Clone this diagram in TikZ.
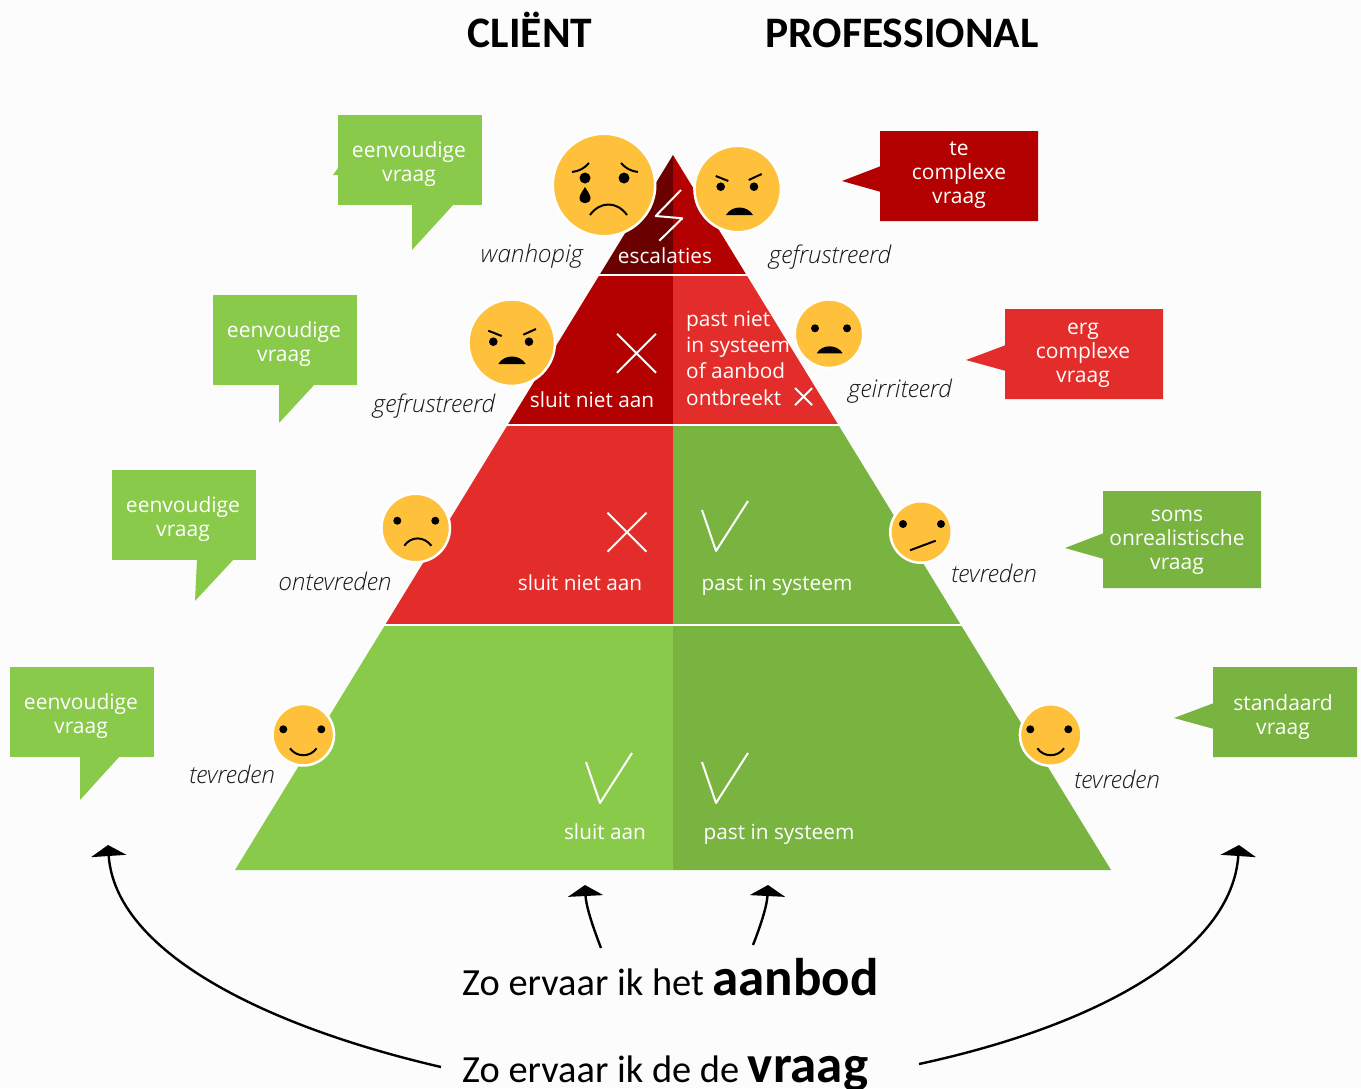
\documentclass[tikz,border=0pt]{standalone}
\usepackage{fontspec}
\setmainfont{Open Sans}
\newfontfamily\kopfont{Carlito}
\newfontfamily\lichtfont{Open Sans Light}[ItalicFont={Open Sans Light Italic}]
\usetikzlibrary{arrows.meta}
\definecolor{donker}{HTML}{6B0000}
\definecolor{rood}{HTML}{B30000}
\definecolor{licht rood}{HTML}{E32D2A}
\definecolor{groen}{HTML}{89CA4A}
\definecolor{donker groen}{HTML}{79B340}
\definecolor{geel}{HTML}{FFC13C}
\tikzset{
  ballon/.style={text=white,align=center,font=\fontsize{21}{24}\selectfont,inner sep=0pt},
  tekst/.style={text=white,font=\fontsize{20.8}{26.3}\selectfont,inner sep=0pt},
  gevoel/.style={text=black!90,font=\lichtfont\itshape\fontsize{24.3}{28}\selectfont,inner sep=0pt},
  regel/.style={anchor=base west,inner sep=0pt,font=\kopfont\fontsize{38.4}{40}\selectfont},
  kop/.style={anchor=base,inner sep=0pt,font=\kopfont\bfseries\fontsize{43.5}{45}\selectfont},
  gezicht/.style={circle,fill=geel,draw=white,line width=2.5pt,inner sep=0pt},
  teken/.style={white,line width=2pt},
  mond/.style={black,line width=2pt},
  pijl/.style={black,line width=2.4pt,-{Triangle[width=35pt,length=11pt]}}
}
\begin{document}
\begin{tikzpicture}[x=1pt,y=-1pt,line join=round]%Piramide
  \useasboundingbox (0,0) rectangle (1361,1088);
  \fill[white!99!black] (0,0) rectangle (1361,1088);
  % de lagen, links en rechts
  \foreach \y/\b/\kl/\kr in {155/275/donker/rood,275/425/rood/licht rood,425/625/licht rood/donker groen,625/870/groen/donker groen}{
      \pgfmathsetmacro{\xa}{0.6126*(\y-155)}
      \pgfmathsetmacro{\xb}{0.6126*(\b-155)}
      \fill[\kl] (673-\xa,\y)--(673,\y)--(673,\b)--(673-\xb,\b)--cycle;
      \fill[\kr] (673+\xa,\y)--(673,\y)--(673,\b)--(673+\xb,\b)--cycle;
  }
  \foreach \y/\a/\b in {275/598/749,425/506/841,625/383/964}
  \draw[white,line width=2pt] (\a,\y)--(\b,\y);
  % ballonnen
  \foreach \x/\y/\n in {338/115/b1,213/295/b2,112/470/b3,10/667/b4}{
      \fill[groen] (\x,\y) rectangle (\x+144,\y+90);
      \node[ballon] (\n) at (\x+71,\y+49) {eenvoudige\\vraag};
  }
  \fill[groen] (412,204)--(412,250)--(454,204)--cycle (338,168)--(333,175)--(338,175)--cycle;
  \fill[groen] (279,384)--(279,423)--(315,384)--cycle;
  \fill[groen] (197,559)--(195,601)--(234,559)--cycle;
  \fill[groen] (80,756)--(80,800)--(120,756)--cycle;
  \fill[rood] (880,131) rectangle (1038,221) (881,166)--(842,181)--(881,192)--cycle;
  \node[ballon] (b5) at (959,175) {te\\complexe\\vraag};
  \fill[licht rood] (1005,309) rectangle (1163,399) (1006,345)--(966,360)--(1006,371)--cycle;
  \node[ballon] (b6) at (1083,355) {erg\\complexe\\vraag};
  \fill[donker groen] (1103,491) rectangle (1261,588) (1104,533)--(1065,548)--(1104,559)--cycle;
  \node[ballon] (b7) at (1177,542.5) {soms\\onrealistische\\vraag};
  \fill[donker groen] (1213,667) rectangle (1357,757) (1214,703)--(1174,718)--(1214,729)--cycle;
  \node[ballon] (b8) at (1283,717) {standaard\\vraag};
  % gezichten
  \foreach \x/\y/\r/\n in {604/185/50/f1,737.7/189/42/f2,511.7/342.7/42/f3,829/333.7/33/f4,415.7/528/33/f5,921/532/29.5/f6,303.3/734.7/29.5/f7,1050.7/735/29.5/f8}{
      \node[gezicht,minimum size={2*\r pt+2.5pt}] (\n) at (\x,\y) {};
  }
  \foreach \x/\y/\r in {585/178/5.5,624/178/5.5,720.7/186.7/4.3,754/186.7/4.3,493.3/341.7/4.3,529/341.7/4.3,815/328.3/4,847/328.3/4,397.3/520.7/4,435.3/520.7/4,903/524/4,941/524/4,283.3/729.3/4,321.3/729.3/4,1030.3/729.3/4,1068.3/729.3/4}
  \fill[black] (\x,\y) circle (\r);
  \draw[mond] (572,172) to[bend right=20] (589,163) (621,163) to[bend right=20] (638,172);
  \fill[black] (585,187) .. controls (582,192) and (579.5,195) .. (579.5,198) .. controls (579.5,205) and (590.5,205) .. (590.5,198) .. controls (590.5,195) and (588,192) .. (585,187);
  \draw[mond] (590,215) .. controls (600,201) and (617,201) .. (627,215);
  \draw[mond] (715.7,176)--(728.3,181) (761.7,174)--(748.7,180) (488.3,330.7)--(501.7,336) (536,329)--(523.3,334.7);
  \fill[black] (726,215) .. controls (732,205) and (747,205) .. (753,215)--cycle;
  \fill[black] (498.3,364) .. controls (504,354) and (520,354) .. (525.7,364)--cycle;
  \fill[black] (816.7,353.3) .. controls (822,344) and (837,344) .. (842.7,353.3)--cycle;
  \draw[mond] (404.3,545.7) .. controls (411,536) and (424,536) .. (431.3,545.7);
  \draw[mond] (910,550.3)--(935.7,540.7);
  \foreach \x in {303.3,1050.7}
  \draw[mond] (\x-13.3,748.3) .. controls (\x-7,757.5) and (\x+7,757.5) .. (\x+13.3,748.3);
  % gevoelens
  \foreach \x/\y/\t/\n in {532/262/wanhopig/g1,830/263/gefrustreerd/g2,434/412/gefrustreerd/g3,900/397/geirriteerd/g4,335/590/ontevreden/g5,994/582/tevreden/g6,232/783/tevreden/g7,1117/788/tevreden/g8}{
      \node[gevoel,anchor=base] (\n) at (\x,\y) {\t};
  }
  % tekst in de piramide
  \foreach \x/\y/\t/\n in {665/263/escalaties/t1,592/407/sluit niet aan/t2,580/590/sluit niet aan/t3,777/590/past in systeem/t4,605/839/sluit aan/t5,779/839/past in systeem/t6}{
      \node[tekst,anchor=base] (\n) at (\x,\y) {\t};
  }
  \node[tekst,anchor=base west,align=left] (t7) at (686,405) {past niet\\in systeem\\of aanbod\\ontbreekt};
  % kruisjes en vinkjes
  \foreach \x/\y/\r in {636.5/353.3/19.5,627/532.2/19.5,803.6/396.6/8.5}
  \draw[teken] (\x-\r,\y-\r)--(\x+\r,\y+\r) (\x-\r,\y+\r)--(\x+\r,\y-\r);
  \foreach \x/\y in {702/510,702/762,586/762}
  \draw[teken] (\x,\y)--(\x+14,\y+41)--(\x+46,\y-9);
  \draw[teken] (681,190)--(655.7,216)--(682.3,218.3)--(659.3,240.7);
  % kopjes en regels
  \node[kop] (client) at (530,47.5) {CLIËNT};
  \node[kop] (prof) at (902,47.5) {PROFESSIONAL};
  \node[regel] (aanbod) at (462,995) {Zo ervaar ik het {\bfseries\fontsize{53}{55}\selectfont aanbod}};
  \node[regel] (vraag) at (462,1082) {Zo ervaar ik de de {\bfseries\fontsize{53}{55}\selectfont vraag}};
  % pijlen
  \path (108,845)coordinate(p1)(585,885)coordinate(p2)(768,885)coordinate(p3)(1239,845)coordinate(p4);
  \path (441,1067)coordinate(q1)(601,948)coordinate(q2)(753,945)coordinate(q3)(919,1064)coordinate(q4);
  \draw[pijl] (q1) .. controls (260,1025) and (115,950) .. (p1);
  \draw[pijl] (q2) .. controls (591,922) and (586,905) .. (p2);
  \draw[pijl] (q3) .. controls (762,922) and (767,905) .. (p3);
  \draw[pijl] (q4) .. controls (1100,1025) and (1232,950) .. (p4);
\end{tikzpicture}
\end{document}
